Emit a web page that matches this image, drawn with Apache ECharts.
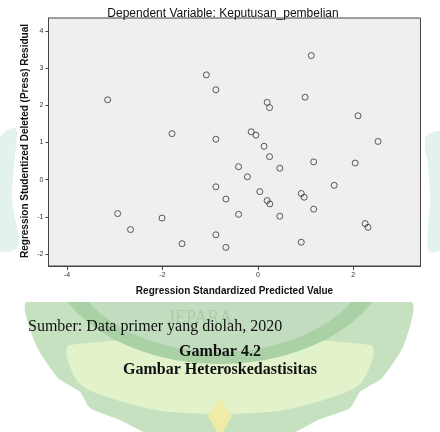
<!DOCTYPE html>
<html>
<head>
<meta charset="utf-8">
<script src="https://cdn.jsdelivr.net/npm/echarts@6/dist/echarts.min.js"></script>
<style>
  html, body { margin: 0; padding: 0; background: #ffffff; }
  #chart { width: 440px; height: 432px; }
</style>
</head>
<body>
<div id="chart"></div>
<script>
// nilai prediksi terstandar (sumbu X)
const predicted = [
  -3.15, -1.08, -0.88, 1.12, 0.99, 0.195, 0.245, 2.10,
  -1.80, -0.88, -0.14, -0.04, 0.13, 0.245, 2.52, -0.405,
  -0.22, 0.46, 1.17, 2.04, -0.88, -0.67, 0.04, 0.195,
  0.25, 0.91, 0.97, 1.60, 1.17, -0.405, 0.46, -2.94,
  -2.67, -2.01, -1.59, -0.88, -0.67, 0.91, 2.25, 2.31
]
// residual studentized deleted (sumbu Y)
const residual = [
  2.15, 2.82, 2.42, 3.34, 2.22, 2.08, 1.94, 1.72,
  1.24, 1.09, 1.29, 1.20, 0.90, 0.62, 1.03, 0.35,
  0.08, 0.31, 0.48, 0.45, -0.19, -0.52, -0.32, -0.56,
  -0.65, -0.37, -0.47, -0.15, -0.79, -0.93, -0.98, -0.91,
  -1.34, -1.03, -1.72, -1.48, -1.82, -1.68, -1.18, -1.28
]
const xTicks = [-4, -2, 0, 2]
const yTicks = [-2, -1, 0, 1, 2, 3, 4]

const chart = echarts.init(document.getElementById('chart'))
const points = predicted.map((x, i) => [x, residual[i]])

// watermark logo di belakang (samar)
const watermark = [
  {
    type: 'polygon', z: -20, silent: true,
    shape: {
      points: [[27, 302], [411, 302], [404, 345], [382, 378], [360, 392], [350, 408], [318, 420], [285, 436],
               [155, 436], [120, 420], [90, 408], [80, 392], [58, 378], [36, 345]],
      smooth: 0.2
    },
    style: { fill: '#c6e1bf' }
  },
  {
    type: 'polygon', z: -19, silent: true,
    shape: {
      points: [[70, 345], [370, 345], [362, 382], [330, 398], [270, 412], [170, 412], [110, 398], [78, 382]],
      smooth: 0.3
    },
    style: { fill: '#e2f2cb' }
  },
  {
    type: 'circle', z: -18, silent: true,
    x: 220, y: 250, scaleX: 1.5,
    shape: { cx: 0, cy: 0, r: 108 },
    style: { fill: '#c2dcc0', stroke: '#aad1a6', lineWidth: 12 }
  },
  {
    type: 'text', z: -17, silent: true, left: 168, top: 309,
    style: { text: 'JEPARA', font: '18px "Liberation Serif"', fill: '#a9cdaa' }
  },
  {
    type: 'polygon', z: -17, silent: true,
    shape: { points: [[220, 398], [232, 416], [220, 438], [208, 416]] },
    style: { fill: '#f1ebaa' }
  },
  {
    type: 'polygon', z: -17, silent: true,
    shape: { points: [[0, 138], [16, 128], [14, 165], [12, 200], [19, 245], [8, 252], [0, 250]], smooth: 0.3 },
    style: { fill: '#e4f2ec' }
  },
  {
    type: 'polygon', z: -17, silent: true,
    shape: { points: [[425, 138], [440, 132], [440, 250], [428, 250], [430, 200], [428, 165]], smooth: 0.3 },
    style: { fill: '#e4f2ec' }
  },
  {
    type: 'rect', z: -10, silent: true,
    shape: { x: 22, y: 0, width: 403, height: 302 },
    style: { fill: '#ffffff' }
  }
]

const option = {
  backgroundColor: '#ffffff',
  animation: false,
  title: {
    text: 'Dependent Variable: Keputusan_pembelian',
    left: 218,
    top: 3,
    textAlign: 'center',
    textStyle: { fontFamily: 'Liberation Sans', fontSize: 12, fontWeight: 'normal', color: '#111' }
  },
  grid: {
    left: 48.5, right: 19.5, top: 18, bottom: 166,
    containLabel: false,
    outerBoundsMode: 'none',
    show: true,
    backgroundColor: '#efefef',
    borderColor: '#444',
    borderWidth: 1
  },
  xAxis: {
    type: 'value',
    min: -4.39,
    max: 3.41,
    name: 'Regression Standardized Predicted Value',
    nameLocation: 'middle',
    nameGap: 20,
    nameTextStyle: { fontFamily: 'Liberation Sans', fontSize: 10, fontWeight: 'bold', color: '#111' },
    splitLine: { show: false },
    axisLine: { show: true, onZero: false, lineStyle: { color: '#444' } },
    axisTick: { show: true, length: 4, customValues: xTicks, lineStyle: { color: '#444' } },
    axisLabel: { customValues: xTicks, fontSize: 7, color: '#333', margin: 6, fontFamily: 'Liberation Sans' }
  },
  yAxis: {
    type: 'value',
    min: -2.32,
    max: 4.35,
    splitLine: { show: false },
    axisLine: { show: true, onZero: false, lineStyle: { color: '#444' } },
    axisTick: { show: true, length: 3, customValues: yTicks, lineStyle: { color: '#444' } },
    axisLabel: { customValues: yTicks, fontSize: 7, color: '#333', margin: 5, fontFamily: 'Liberation Sans' }
  },
  graphic: watermark.concat([
    {
      type: 'text', x: 25, y: 141, rotation: Math.PI / 2, z: 10,
      style: {
        text: 'Regression Studentized Deleted (Press) Residual',
        font: 'bold 10px "Liberation Sans"', fill: '#111',
        align: 'center', verticalAlign: 'middle'
      }
    },
    {
      type: 'text', left: 28, top: 319, z: 10,
      style: { text: 'Sumber: Data primer yang diolah, 2020', font: '16px "Liberation Serif"', fill: '#111' }
    },
    {
      type: 'text', left: 'center', top: 344, z: 10,
      style: { text: 'Gambar 4.2', font: 'bold 16px "Liberation Serif"', fill: '#111', textAlign: 'center' }
    },
    {
      type: 'text', left: 'center', top: 362, z: 10,
      style: { text: 'Gambar Heteroskedastisitas', font: 'bold 16px "Liberation Serif"', fill: '#111', textAlign: 'center' }
    }
  ]),
  series: [
    {
      type: 'scatter',
      data: points,
      symbol: 'circle',
      symbolSize: 6,
      itemStyle: { color: 'rgba(0,0,0,0)', borderColor: '#333', borderWidth: 1 }
    }
  ]
}
chart.setOption(option)
</script>
</body>
</html>
